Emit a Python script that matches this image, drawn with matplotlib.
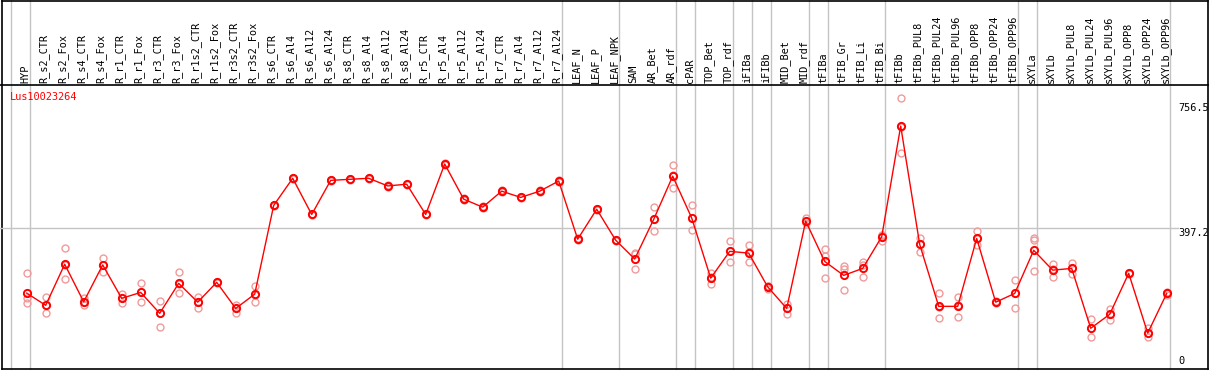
import matplotlib
matplotlib.use("Agg")
import matplotlib.pyplot as plt
import matplotlib.transforms as mtransforms
import numpy as np

gene_id = "Lus10023264"

samples = [
    "HYP", "R_s2_CTR", "R_s2_Fox", "R_s4_CTR", "R_s4_Fox", "R_r1_CTR", "R_r1_Fox",
    "R_r3_CTR", "R_r3_Fox", "R_r1s2_CTR", "R_r1s2_Fox", "R_r3s2_CTR", "R_r3s2_Fox",
    "R_s6_CTR", "R_s6_Al4", "R_s6_Al12", "R_s6_Al24", "R_s8_CTR", "R_s8_Al4",
    "R_s8_Al12", "R_s8_Al24", "R_r5_CTR", "R_r5_Al4", "R_r5_Al12", "R_r5_Al24",
    "R_r7_CTR", "R_r7_Al4", "R_r7_Al12", "R_r7_Al24", "LEAF_N", "LEAF_P", "LEAF_NPK",
    "SAM", "AR_Bet", "AR_rdf", "cPAR", "TOP_Bet", "TOP_rdf", "iFIBa", "iFIBb",
    "MID_Bet", "MID_rdf", "tFIBa", "tFIB_Gr", "tFIB_Li", "tFIB_Bi", "tFIBb",
    "tFIBb_PUL8", "tFIBb_PUL24", "tFIBb_PUL96", "tFIBb_OPP8", "tFIBb_OPP24",
    "tFIBb_OPP96", "sXYLa", "sXYLb", "sXYLb_PUL8", "sXYLb_PUL24", "sXYLb_PUL96",
    "sXYLb_OPP8", "sXYLb_OPP24", "sXYLb_OPP96",
]

mean_expr = [
    210, 175, 293, 185, 291, 195, 212, 152, 238, 184, 241, 166, 207,
    462, 540, 436, 534, 537, 540, 518, 523, 436, 581, 480, 457, 503, 485, 503, 532,
    365, 451, 362, 308, 422, 546, 426, 253, 330, 325, 228, 166, 417,
    301, 261, 281, 372, 690, 350, 172, 172, 367, 184, 209,
    333, 276, 281, 109, 149, 267, 95, 209,
]
rep1 = [
    267, 198, 339, 195, 312, 207, 238, 188, 270, 200, 243, 176, 231,
    464, 542, 438, 536, 539, 542, 520, 525, 438, 583, 482, 459, 505, 487, 505, 534,
    367, 453, 364, 322, 457, 578, 462, 269, 359, 348, 231, 180, 426,
    336, 288, 300, 377, 770, 368, 209, 200, 388, 186, 249,
    369, 293, 297, 136, 165, 269, 109, 213,
]
rep2 = [
    195, 152, 250, 176, 272, 182, 185, 114, 209, 168, 239, 154, 185,
    460, 538, 434, 532, 535, 538, 516, 521, 434, 579, 478, 455, 501, 483, 501, 530,
    363, 449, 360, 278, 388, 511, 390, 235, 300, 300, 223, 151, 411,
    318, 280, 290, 360, 612, 329, 138, 140, 348, 182, 168,
    362, 257, 264, 83, 132, 265, 83, 205,
]
rep3 = [
    181, 175, 290, 185, 290, 195, 213, 152, 236, 184, 241, 168, 205,
    462, 540, 436, 534, 537, 540, 518, 523, 436, 581, 480, 457, 503, 485, 503, 532,
    365, 451, 362, 325, 422, 548, 426, 255, 331, 327, 230, 167, 417,
    253, 219, 255, 378, 688, 352, 170, 176, 366, 185, 210,
    273, 278, 281, 109, 149, 267, 95, 209,
]

# samples per tissue block, separated by gray lines
group_sizes = [1, 28, 3, 3, 1, 2, 1, 1, 2, 1, 3, 7, 1, 7]
y_max = 756.5
y_ref = 397.2

W, H = 1209, 370
fig = plt.figure(figsize=(W / 100, H / 100), dpi=100)

mono = "DejaVu Sans Mono"
fs = 7.4
gray = "#c4c4c4"

# x mapping: first sample at 26.7 px, 19 px per sample
x0_px, step_px = 26.7, 19.0
xlim = (-x0_px / step_px, (W - x0_px) / step_px)

# background axes for the separator lines (same x mapping as data axes)
bg = fig.add_axes([0, 0, 1, 1])
bg.set_xlim(*xlim)
bg.set_ylim(0, 1)
bg.set_xticks([])
bg.set_yticks([])
for s in bg.spines.values():
    s.set_visible(False)

# outer frame
frame = fig.add_axes([1.5 / W, 1.5 / H, (W - 2.5) / W, (H - 2) / H])
frame.patch.set_alpha(0)
frame.set_xticks([])
frame.set_yticks([])
for s in frame.spines.values():
    s.set_color("black")
    s.set_linewidth(1.2)

# data axes: plot area from y=85 px to y=368 px
top_px, bot_px = 85, 368
ax = fig.add_axes([0, (H - bot_px) / H, 1, (bot_px - top_px) / H])
ax.patch.set_alpha(0)
ax.set_xlim(*xlim)
zero_px = 366.2
scale = 0.348  # px per unit
ax.set_ylim(-(bot_px - zero_px) / scale, (zero_px - top_px) / scale)
ax.set_xticks([])
ax.set_yticks([])
for k in ["left", "right", "bottom"]:
    ax.spines[k].set_visible(False)
ax.spines["top"].set_color("black")
ax.spines["top"].set_linewidth(1.2)

x = np.arange(len(samples))

# group separator lines across header and plot
bounds = np.concatenate([[-1], np.cumsum(group_sizes) - 1]) + 3.7 / step_px
for b in bounds:
    bg.axvline(b, color=gray, lw=1.0, zorder=0)

# reference line
ax.axhline(y_ref, xmin=0, xmax=1178 / W, color=gray, lw=1.0, zorder=1)

# replicates
for rep in (rep1, rep2, rep3):
    ax.plot(x, rep, linestyle="none", marker="o", markersize=5,
            markerfacecolor="none", markeredgecolor="#f09a9a",
            markeredgewidth=1.0, zorder=2, clip_on=False)

# mean line
ax.plot(x, mean_expr, color="red", lw=1.0, marker="o", markersize=5.2,
        markerfacecolor="none", markeredgecolor="red", markeredgewidth=1.4,
        zorder=3, clip_on=False)

# header sample labels
lab_tr = mtransforms.blended_transform_factory(ax.transData, ax.transAxes)
for i, name in enumerate(samples):
    ax.text(i - 0.08, 1 + 2.5 / (bot_px - top_px), name, rotation=90,
            ha="center", va="bottom", fontsize=fs, family=mono,
            transform=lab_tr, clip_on=False)

# right value labels
val_tr = mtransforms.blended_transform_factory(ax.transAxes, ax.transData)
xr = 1178 / W
ax.text(xr, y_max, f"{y_max:.1f}", ha="left", va="top", fontsize=fs,
        family=mono, transform=val_tr)
ax.text(xr, y_ref, f"{y_ref:.1f}", ha="left", va="top", fontsize=fs,
        family=mono, transform=val_tr)
ax.text(xr, 0, "0", ha="left", va="bottom", fontsize=fs,
        family=mono, transform=val_tr)

# gene id
fig.text(10 / W, 1 - 92 / H, gene_id, color="red", ha="left", va="top",
         fontsize=fs, family=mono)

fig.savefig("out.png", dpi=100)
